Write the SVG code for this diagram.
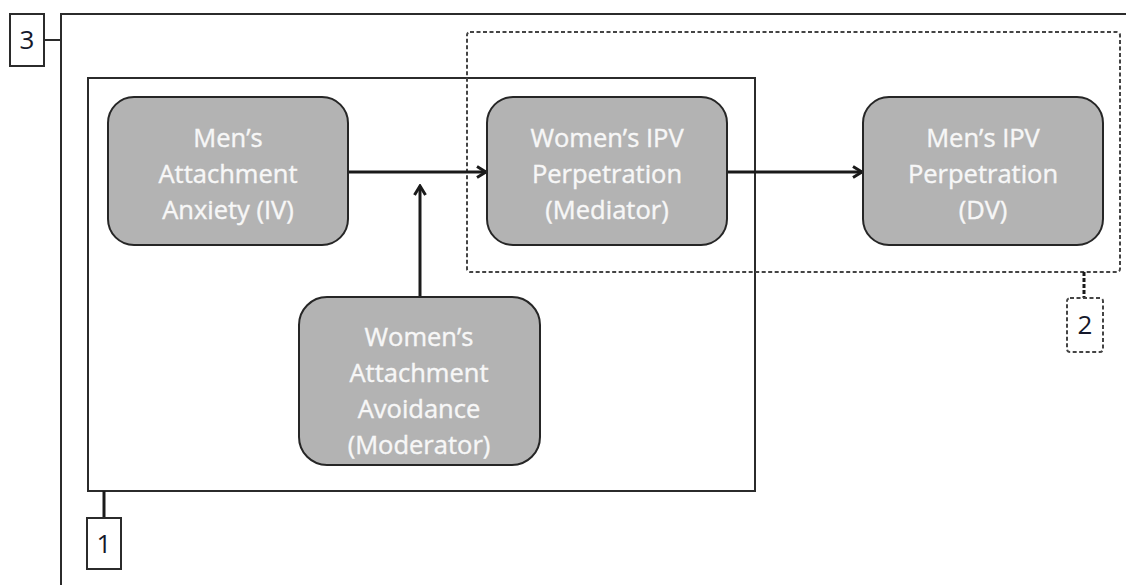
<svg xmlns="http://www.w3.org/2000/svg" width="1126" height="585" viewBox="0 0 1126 585">
  <style>
    .frame { fill: none; stroke: #2b2b2b; stroke-width: 2; }
    .dash { fill: none; stroke: #444; stroke-width: 2; stroke-dasharray: 4 2.5; }
    .tag { fill: #fff; stroke: #2b2b2b; stroke-width: 2; }
    .tagdash { fill: #fff; stroke: #444; stroke-width: 2; stroke-dasharray: 4 2.5; }
    .tagtxt { font-family: "Open Sans", "Liberation Sans", sans-serif; font-size: 26px; fill: #15182a; text-anchor: middle; }
    .node { fill: #b3b3b3; stroke: #262626; stroke-width: 2; }
    .lbl { font-family: "Open Sans", "Liberation Sans", sans-serif; font-size: 25.5px; fill: #f7f7f7; text-anchor: middle; stroke: #f7f7f7; stroke-width: 0.4; }
    .link { fill: none; stroke: #1a1a1a; stroke-width: 3; }
  </style>
  <defs>
    <marker id="arrow" viewBox="0 0 14 14" refX="12" refY="7" markerWidth="14" markerHeight="14" markerUnits="userSpaceOnUse" orient="auto">
      <path d="M3,1.5 L12,7 L3,12.5" fill="none" stroke="#1a1a1a" stroke-width="3"/>
    </marker>
  </defs>

  <!-- outer frame 3 -->
  <g id="frame3">
    <path class="frame" d="M61,585 L61,14 L1126,14"/>
    <line class="frame" x1="44" y1="40" x2="61" y2="40"/>
    <rect class="tag" x="10" y="14" width="34" height="52"/>
    <text class="tagtxt" x="27" y="49">3</text>
  </g>

  <!-- frame 1 -->
  <g id="frame1">
    <rect class="frame" x="88" y="78" width="667" height="413"/>
    <line x1="104" y1="491" x2="104" y2="518" stroke="#1a1a1a" stroke-width="3"/>
    <rect class="tag" x="87" y="518" width="34" height="51"/>
    <text class="tagtxt" x="104" y="553">1</text>
  </g>

  <!-- dashed frame 2 -->
  <g id="frame2">
    <rect class="dash" x="467" y="32" width="653" height="240" rx="3"/>
    <line x1="1084" y1="272" x2="1084" y2="298" stroke="#1a1a1a" stroke-width="3" stroke-dasharray="4 2"/>
    <rect class="tagdash" x="1067" y="298" width="36" height="54" rx="3"/>
    <text class="tagtxt" x="1085" y="334">2</text>
  </g>

  <!-- connectors -->
  <g id="connectors">
    <line class="link" x1="348" y1="172" x2="486" y2="172" marker-end="url(#arrow)"/>
    <line class="link" x1="727" y1="172" x2="862" y2="172" marker-end="url(#arrow)"/>
    <line class="link" x1="420" y1="297" x2="420" y2="186" marker-end="url(#arrow)"/>
  </g>

  <g id="node-iv">
    <rect class="node" x="108" y="97" width="240" height="148" rx="26"/>
    <text class="lbl" x="228" y="147">Men’s</text>
    <text class="lbl" x="228" y="183">Attachment</text>
    <text class="lbl" x="228" y="219">Anxiety (IV)</text>
  </g>

  <g id="node-mediator">
    <rect class="node" x="487" y="97" width="240" height="148" rx="26"/>
    <text class="lbl" x="607" y="147">Women’s IPV</text>
    <text class="lbl" x="607" y="183">Perpetration</text>
    <text class="lbl" x="607" y="219">(Mediator)</text>
  </g>

  <g id="node-dv">
    <rect class="node" x="863" y="97" width="240" height="148" rx="26"/>
    <text class="lbl" x="983" y="147">Men’s IPV</text>
    <text class="lbl" x="983" y="183">Perpetration</text>
    <text class="lbl" x="983" y="219">(DV)</text>
  </g>

  <g id="node-moderator">
    <rect class="node" x="299" y="297" width="241" height="168" rx="28"/>
    <text class="lbl" x="419" y="346">Women’s</text>
    <text class="lbl" x="419" y="382">Attachment</text>
    <text class="lbl" x="419" y="418">Avoidance</text>
    <text class="lbl" x="419" y="454">(Moderator)</text>
  </g>
</svg>
